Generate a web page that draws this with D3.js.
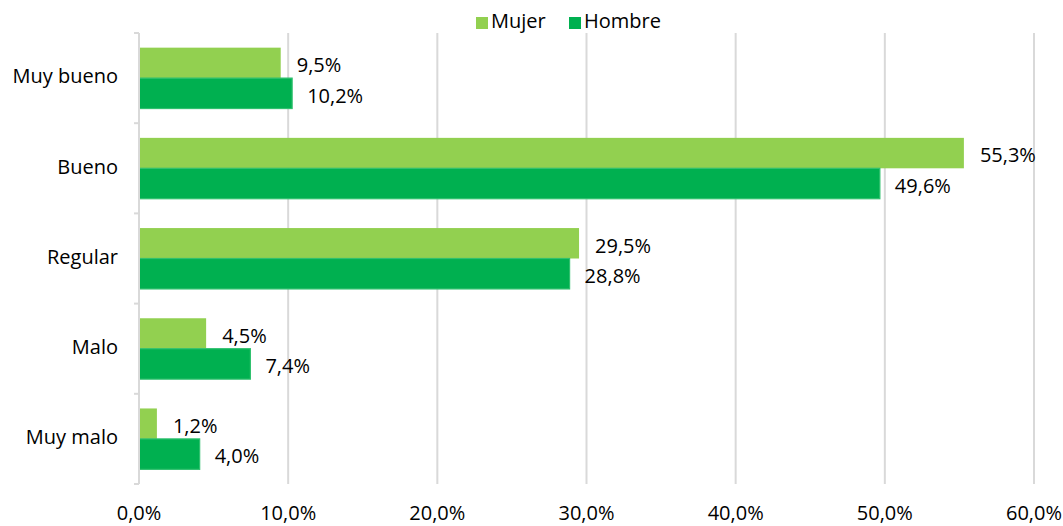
<!DOCTYPE html>
<html><head><meta charset="utf-8">
<script src="https://cdn.jsdelivr.net/npm/d3@7"></script>
<style>
body{margin:0;background:#fff;}
text{font-family:"Segoe UI","Open Sans","Noto Sans",sans-serif;fill:#000;}
</style></head>
<body><svg id="c" width="1063" height="526"></svg>
<script>
const categories = ["Muy bueno","Bueno","Regular","Malo","Muy malo"];
const seriesNames = ["Mujer","Hombre"];
const mujer = [9.5, 55.3, 29.5, 4.5, 1.2];
const hombre = [10.2, 49.6, 28.8, 7.4, 4.0];
const xTicks = [0,10,20,30,40,50,60];
const colors = ["#92D050","#00B050"];
const strokes = ["none","#2fc06e"];

(function(){
const svg = d3.select("#c");
const pL = 139, pR = 1034, pT = 33, pB = 484;
const fs = "20px";
const x = d3.scaleLinear().domain([0,60]).range([pL,pR]);
const y = d3.scaleBand().domain(categories).range([pT,pB]).paddingInner(0.325).paddingOuter(0.1625);
const y1 = d3.scaleBand().domain(seriesNames).range([0,y.bandwidth()]);
const fmt = v => v.toFixed(1).replace(".",",") + "%";

svg.append("g").selectAll("line").data(xTicks.slice(1)).join("line")
  .attr("x1",d=>x(d)).attr("x2",d=>x(d)).attr("y1",pT).attr("y2",pB)
  .attr("stroke","#d9d9d9").attr("stroke-width",2);

svg.append("g").selectAll("text").data(xTicks).join("text")
  .attr("x",d=>x(d)).attr("y",515).attr("text-anchor","middle")
  .attr("dominant-baseline","middle").style("font-size",fs)
  .text(d=>d.toFixed(1).replace(".",",")+"%");

const data = categories.map((c,i)=>({c, vals:[mujer[i],hombre[i]]}));
const g = svg.append("g");
data.forEach(d=>{
  d.vals.forEach((v,j)=>{
    const yy = y(d.c)+y1(seriesNames[j]);
    g.append("rect").attr("x",x(0)).attr("y",yy).attr("width",x(v)-x(0)+(j?1:0)).attr("height",y1.bandwidth())
      .attr("fill",colors[j]).attr("stroke",strokes[j]).attr("stroke-width",1.2);
    g.append("text").attr("x",x(v)+16).attr("y",yy+y1.bandwidth()/2+4)
      .attr("dominant-baseline","middle").style("font-size",fs).text(fmt(v));
  });
});

const bounds = [pT].concat(categories.map(c=>y(c)+y.bandwidth()+y.step()*y.paddingInner()/2));
bounds[bounds.length-1] = pB;
svg.append("line").attr("x1",pL).attr("x2",pL).attr("y1",pT).attr("y2",pB)
  .attr("stroke","#d9d9d9").attr("stroke-width",2);
svg.append("g").selectAll("line").data(bounds).join("line")
  .attr("x1",pL-5).attr("x2",pL).attr("y1",d=>d).attr("y2",d=>d)
  .attr("stroke","#d9d9d9").attr("stroke-width",2);

svg.append("g").selectAll("text").data(categories).join("text")
  .attr("x",118).attr("y",d=>y(d)+y.bandwidth()/2).attr("text-anchor","end")
  .attr("dominant-baseline","middle").style("font-size",fs).text(d=>d);

const leg = svg.append("g");
const legX = [476, 569];
seriesNames.forEach((s,i)=>{
  leg.append("rect").attr("x",legX[i]).attr("y",17).attr("width",12).attr("height",12).attr("fill",colors[i]);
  leg.append("text").attr("x",legX[i]+15).attr("y",23).attr("dominant-baseline","middle")
    .style("font-size",fs).text(s);
});
})();
</script></body></html>
